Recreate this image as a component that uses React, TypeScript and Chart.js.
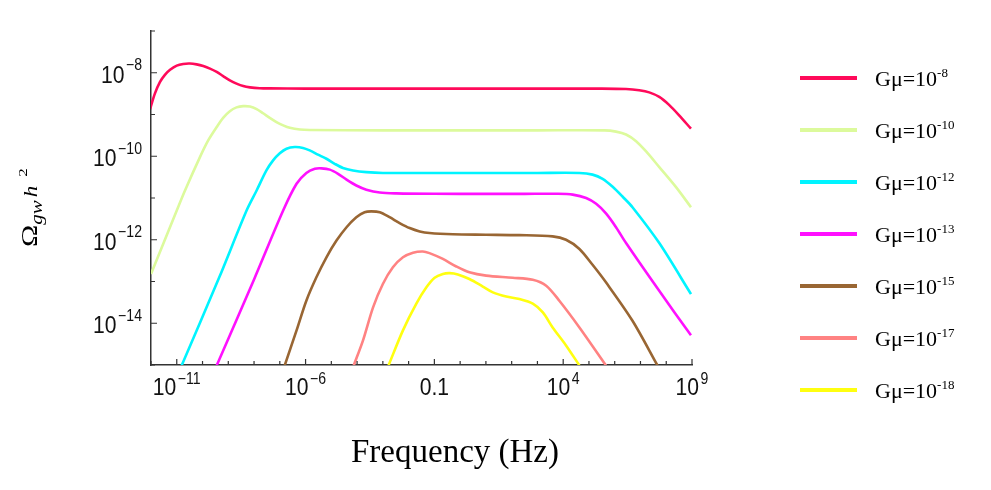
import { useEffect, useRef } from 'react';
import { Chart, registerables, type Plugin } from 'chart.js';

Chart.register(...registerables);

// all values are log10: x = log10(f / Hz), y = log10(Ω_gw h²)
const gmu8X = [-12.04, -11.85, -11.65, -11.46, -11.26, -11.0, -10.75, -10.49, -10.23, -9.97, -9.71, -9.45, -9.2, -8.94, -8.68, -8.42, -8.16, -7.78, -7.4, -6, -3, 0, 3, 5.5, 6.44, 6.95, 7.34, 7.73, 8.11, 8.5, 8.96];
const gmu8Y = [-8.88, -8.5, -8.22, -8.05, -7.93, -7.83, -7.79, -7.78, -7.8, -7.84, -7.9, -7.98, -8.08, -8.18, -8.26, -8.32, -8.35, -8.37, -8.375, -8.38, -8.38, -8.38, -8.38, -8.38, -8.39, -8.42, -8.47, -8.58, -8.77, -9.02, -9.34];

const gmu10X = [-12, -11, -10.68, -10.1, -9.78, -9.45, -9.2, -8.94, -8.68, -8.42, -8.16, -7.9, -7.65, -7.39, -7.13, -6.87, -6.61, -6.22, -5.84, -3, 0, 3, 5.6, 6.05, 6.44, 6.83, 7.21, 7.73, 8.38, 8.96];
const gmu10Y = [-12.82, -11.3, -10.82, -10.02, -9.62, -9.3, -9.08, -8.92, -8.83, -8.8, -8.81, -8.87, -8.97, -9.08, -9.18, -9.26, -9.32, -9.36, -9.37, -9.38, -9.38, -9.38, -9.38, -9.41, -9.48, -9.64, -9.88, -10.26, -10.74, -11.22];

const gmu12X = [-10.81, -9.35, -8.29, -7.9, -7.52, -7.26, -7.0, -6.74, -6.42, -6.1, -5.84, -5.52, -5.19, -4.87, -4.55, -4.16, -3.64, -3.0, -1, 1, 3, 4.63, 5.14, 5.53, 5.92, 6.31, 6.69, 7.73, 8.96];
const gmu12Y = [-15.01, -12.9, -11.3, -10.82, -10.34, -10.1, -9.93, -9.82, -9.78, -9.8, -9.86, -9.96, -10.06, -10.18, -10.28, -10.34, -10.38, -10.4, -10.4, -10.4, -10.4, -10.4, -10.44, -10.54, -10.73, -10.97, -11.22, -12.08, -13.3];

const gmu13X = [-9.45, -8.0, -6.87, -6.35, -5.97, -5.64, -5.38, -5.06, -4.74, -4.41, -4.03, -3.64, -3.12, -2.48, -1, 1, 2.5, 3.8, 4.37, 4.89, 5.28, 5.66, 6.05, 6.44, 7.7, 8.96];
const gmu13Y = [-15.01, -12.95, -11.3, -10.66, -10.4, -10.3, -10.29, -10.32, -10.42, -10.56, -10.7, -10.8, -10.87, -10.89, -10.9, -10.9, -10.9, -10.9, -10.92, -11.0, -11.14, -11.37, -11.7, -12.08, -13.2, -14.29];

const gmu15X = [-6.81, -6.35, -5.97, -5.58, -5.19, -4.8, -4.41, -4.03, -3.71, -3.45, -3.12, -2.74, -2.35, -1.96, -1.57, -1.19, -0.28, 1, 2.3, 3.59, 4.11, 4.63, 5.14, 5.66, 6.69, 7.66];
const gmu15Y = [-15.01, -14.17, -13.46, -12.9, -12.42, -12.02, -11.7, -11.46, -11.34, -11.32, -11.34, -11.46, -11.6, -11.72, -11.8, -11.84, -11.87, -11.88, -11.89, -11.92, -12.0, -12.22, -12.6, -13.02, -13.94, -15.01];

const gmu17X = [-4.13, -3.77, -3.38, -3.0, -2.61, -2.22, -1.83, -1.45, -1.19, -0.67, -0.15, 0.36, 1.01, 2.04, 2.82, 3.34, 3.85, 4.63, 5.66];
const gmu17Y = [-15.01, -14.41, -13.62, -13.06, -12.66, -12.42, -12.31, -12.28, -12.32, -12.46, -12.64, -12.78, -12.86, -12.91, -12.96, -13.1, -13.46, -14.1, -15.01];

const gmu18X = [-2.78, -2.22, -1.7, -1.31, -0.99, -0.67, -0.41, -0.09, 0.36, 0.88, 1.27, 1.79, 2.3, 2.82, 3.21, 3.59, 4.11, 4.63];
const gmu18Y = [-15.01, -14.17, -13.53, -13.14, -12.91, -12.82, -12.8, -12.83, -12.94, -13.12, -13.26, -13.36, -13.42, -13.53, -13.74, -14.1, -14.53, -15.01];

const seriesX = [gmu8X, gmu10X, gmu12X, gmu13X, gmu15X, gmu17X, gmu18X];
const seriesY = [gmu8Y, gmu10Y, gmu12Y, gmu13Y, gmu15Y, gmu17Y, gmu18Y];
const seriesExp = ['-8', '-10', '-12', '-13', '-15', '-17', '-18'];
const seriesColors = ['#ff0a5a', '#dcfa9c', '#00f4ff', '#ff10ff', '#996633', '#ff8282', '#ffff10'];

// axis ranges (decades) and labelled ticks
const X_MIN = -12, X_MAX = 9;
const Y_MIN = -15, Y_MAX = -7;
const xLabelAt = [-11, -6, -1, 4, 9];
const xLabelBase = ['10', '10', '0.1', '10', '10'];
const xLabelSup = ['\u221211', '\u22126', '', '4', '9'];
const yLabelAt = [-8, -10, -12, -14];
const yLabelSup = ['\u22128', '\u221210', '\u221212', '\u221214'];

const AXIS_COLOR = '#333';
const SANS = '"Liberation Sans", Arial, sans-serif';
const SERIF = '"Liberation Serif", "Times New Roman", serif';
const SQUEEZE = 0.88; // the original figure's labels are a bit narrow

// draws text squeezed horizontally, anchored at its left edge
function squeezedText(ctx: CanvasRenderingContext2D, text: string, x: number, y: number) {
    ctx.save();
    ctx.translate(x, y);
    ctx.scale(SQUEEZE, 1);
    ctx.fillText(text, 0, 0);
    ctx.restore();
}

// Mathematica-style inward ticks + superscript tick labels
const axisDecor: Plugin<'line'> = {
    id: 'axisDecor',
    afterDraw(chart) {
        const { ctx, chartArea: area } = chart;
        const xs = chart.scales.x;
        const ys = chart.scales.y;
        ctx.save();
        ctx.strokeStyle = AXIS_COLOR;
        ctx.lineWidth = 1.2;
        ctx.beginPath();
        for (let v = X_MIN; v <= X_MAX; v++) {
            const px = xs.getPixelForValue(v);
            const len = xLabelAt.includes(v) ? 6 : 4;
            ctx.moveTo(px, area.bottom);
            ctx.lineTo(px, area.bottom - len);
        }
        for (let v = Y_MIN; v <= Y_MAX; v++) {
            const py = ys.getPixelForValue(v);
            const len = yLabelAt.includes(v) ? 6 : 4;
            ctx.moveTo(area.left, py);
            ctx.lineTo(area.left + len, py);
        }
        ctx.stroke();

        const baseFont = `24px ${SANS}`;
        const supFont = `16px ${SANS}`;
        ctx.fillStyle = '#111';
        ctx.textAlign = 'left';
        ctx.textBaseline = 'alphabetic';

        xLabelAt.forEach((v, i) => {
            const base = xLabelBase[i];
            const sup = xLabelSup[i];
            ctx.font = baseFont;
            const wb = ctx.measureText(base).width * SQUEEZE;
            ctx.font = supFont;
            const ws = sup ? ctx.measureText(sup).width * SQUEEZE + 1.5 : 0;
            const left = xs.getPixelForValue(v) - (wb + ws) / 2;
            ctx.font = baseFont;
            squeezedText(ctx, base, left, area.bottom + 29.5);
            if (sup) {
                ctx.font = supFont;
                squeezedText(ctx, sup, left + wb + 1.5, area.bottom + 18.5);
            }
        });

        yLabelAt.forEach((v, i) => {
            const py = ys.getPixelForValue(v);
            const sup = yLabelSup[i];
            ctx.font = supFont;
            const ws = ctx.measureText(sup).width * SQUEEZE;
            ctx.font = baseFont;
            const wb = ctx.measureText('10').width * SQUEEZE;
            const right = area.left - 9;
            squeezedText(ctx, '10', right - ws - 1.5 - wb, py + 9.8);
            ctx.font = supFont;
            squeezedText(ctx, sup, right - ws, py - 2.3);
        });
        ctx.restore();
    }
};

export default function App() {
    const chartRef = useRef<HTMLCanvasElement>(null);

    useEffect(() => {
        document.body.style.margin = '0';
        if (!chartRef.current) return;

        const chart = new Chart(chartRef.current, {
            type: 'line',
            data: {
                datasets: seriesX.map((xv, s) => ({
                    label: `G\u03bc=10${seriesExp[s]}`,
                    data: xv.map((x, i) => ({ x, y: seriesY[s][i] })),
                    borderColor: seriesColors[s],
                    backgroundColor: seriesColors[s],
                    borderWidth: 2.6,
                    pointRadius: 0,
                    fill: false,
                    tension: 0.3
                }))
            },
            options: {
                animation: false,
                responsive: false,
                layout: { padding: { left: 151, top: 31, right: 299, bottom: 125 } },
                plugins: {
                    legend: { display: false },
                    tooltip: { enabled: false }
                },
                scales: {
                    x: {
                        type: 'linear',
                        min: X_MIN,
                        max: X_MAX,
                        ticks: { display: false },
                        grid: { display: false, drawTicks: false },
                        border: { display: true, color: AXIS_COLOR, width: 1.5 }
                    },
                    y: {
                        type: 'linear',
                        min: Y_MIN,
                        max: Y_MAX,
                        ticks: { display: false },
                        grid: { display: false, drawTicks: false },
                        border: { display: true, color: AXIS_COLOR, width: 1.5 }
                    }
                }
            },
            plugins: [axisDecor]
        });

        return () => {
            chart.destroy();
        };
    }, []);

    return (
        <div style={{ position: 'relative', width: 991, height: 490, background: '#fff', overflow: 'hidden' }}>
            <canvas ref={chartRef} width={991} height={490} style={{ position: 'absolute', left: 0, top: 0 }}></canvas>

            {/* y axis title */}
            <div
                style={{
                    position: 'absolute',
                    left: 15,
                    top: 247,
                    transform: 'rotate(-90deg) scaleY(0.78)',
                    transformOrigin: 'left top',
                    whiteSpace: 'nowrap',
                    fontFamily: SERIF,
                    fontSize: 30,
                    lineHeight: '36px',
                    color: '#000'
                }}
            >
                {'\u03a9'}
                <span style={{ fontSize: 21, fontStyle: 'italic', position: 'relative', top: 6 }}>gw</span>
                <span style={{ fontSize: 23, fontStyle: 'italic', marginLeft: 3 }}>h</span>
                <span style={{ fontSize: 17, marginLeft: 9, position: 'relative', top: -12 }}>2</span>
            </div>

            {/* x axis title */}
            <div
                style={{
                    position: 'absolute',
                    left: 455,
                    top: 435,
                    transform: 'translateX(-50%)',
                    whiteSpace: 'nowrap',
                    fontFamily: SERIF,
                    fontSize: 33,
                    lineHeight: '33px',
                    color: '#000'
                }}
            >
                Frequency (Hz)
            </div>

            {/* legend */}
            {seriesExp.map((exp, s) => {
                const rowY = 78 + s * 52;
                return (
                    <div key={exp}>
                        <div
                            style={{
                                position: 'absolute',
                                left: 800,
                                top: rowY - 2,
                                width: 57,
                                height: 4,
                                background: seriesColors[s]
                            }}
                        />
                        <div
                            style={{
                                position: 'absolute',
                                left: 875,
                                top: rowY - 9.7,
                                whiteSpace: 'nowrap',
                                fontFamily: SERIF,
                                fontSize: 22,
                                lineHeight: '22px',
                                color: '#000'
                            }}
                        >
                            G{'\u03bc'}=10
                            <span style={{ fontSize: 13, position: 'relative', top: -9 }}>{exp}</span>
                        </div>
                    </div>
                );
            })}
        </div>
    );
}
